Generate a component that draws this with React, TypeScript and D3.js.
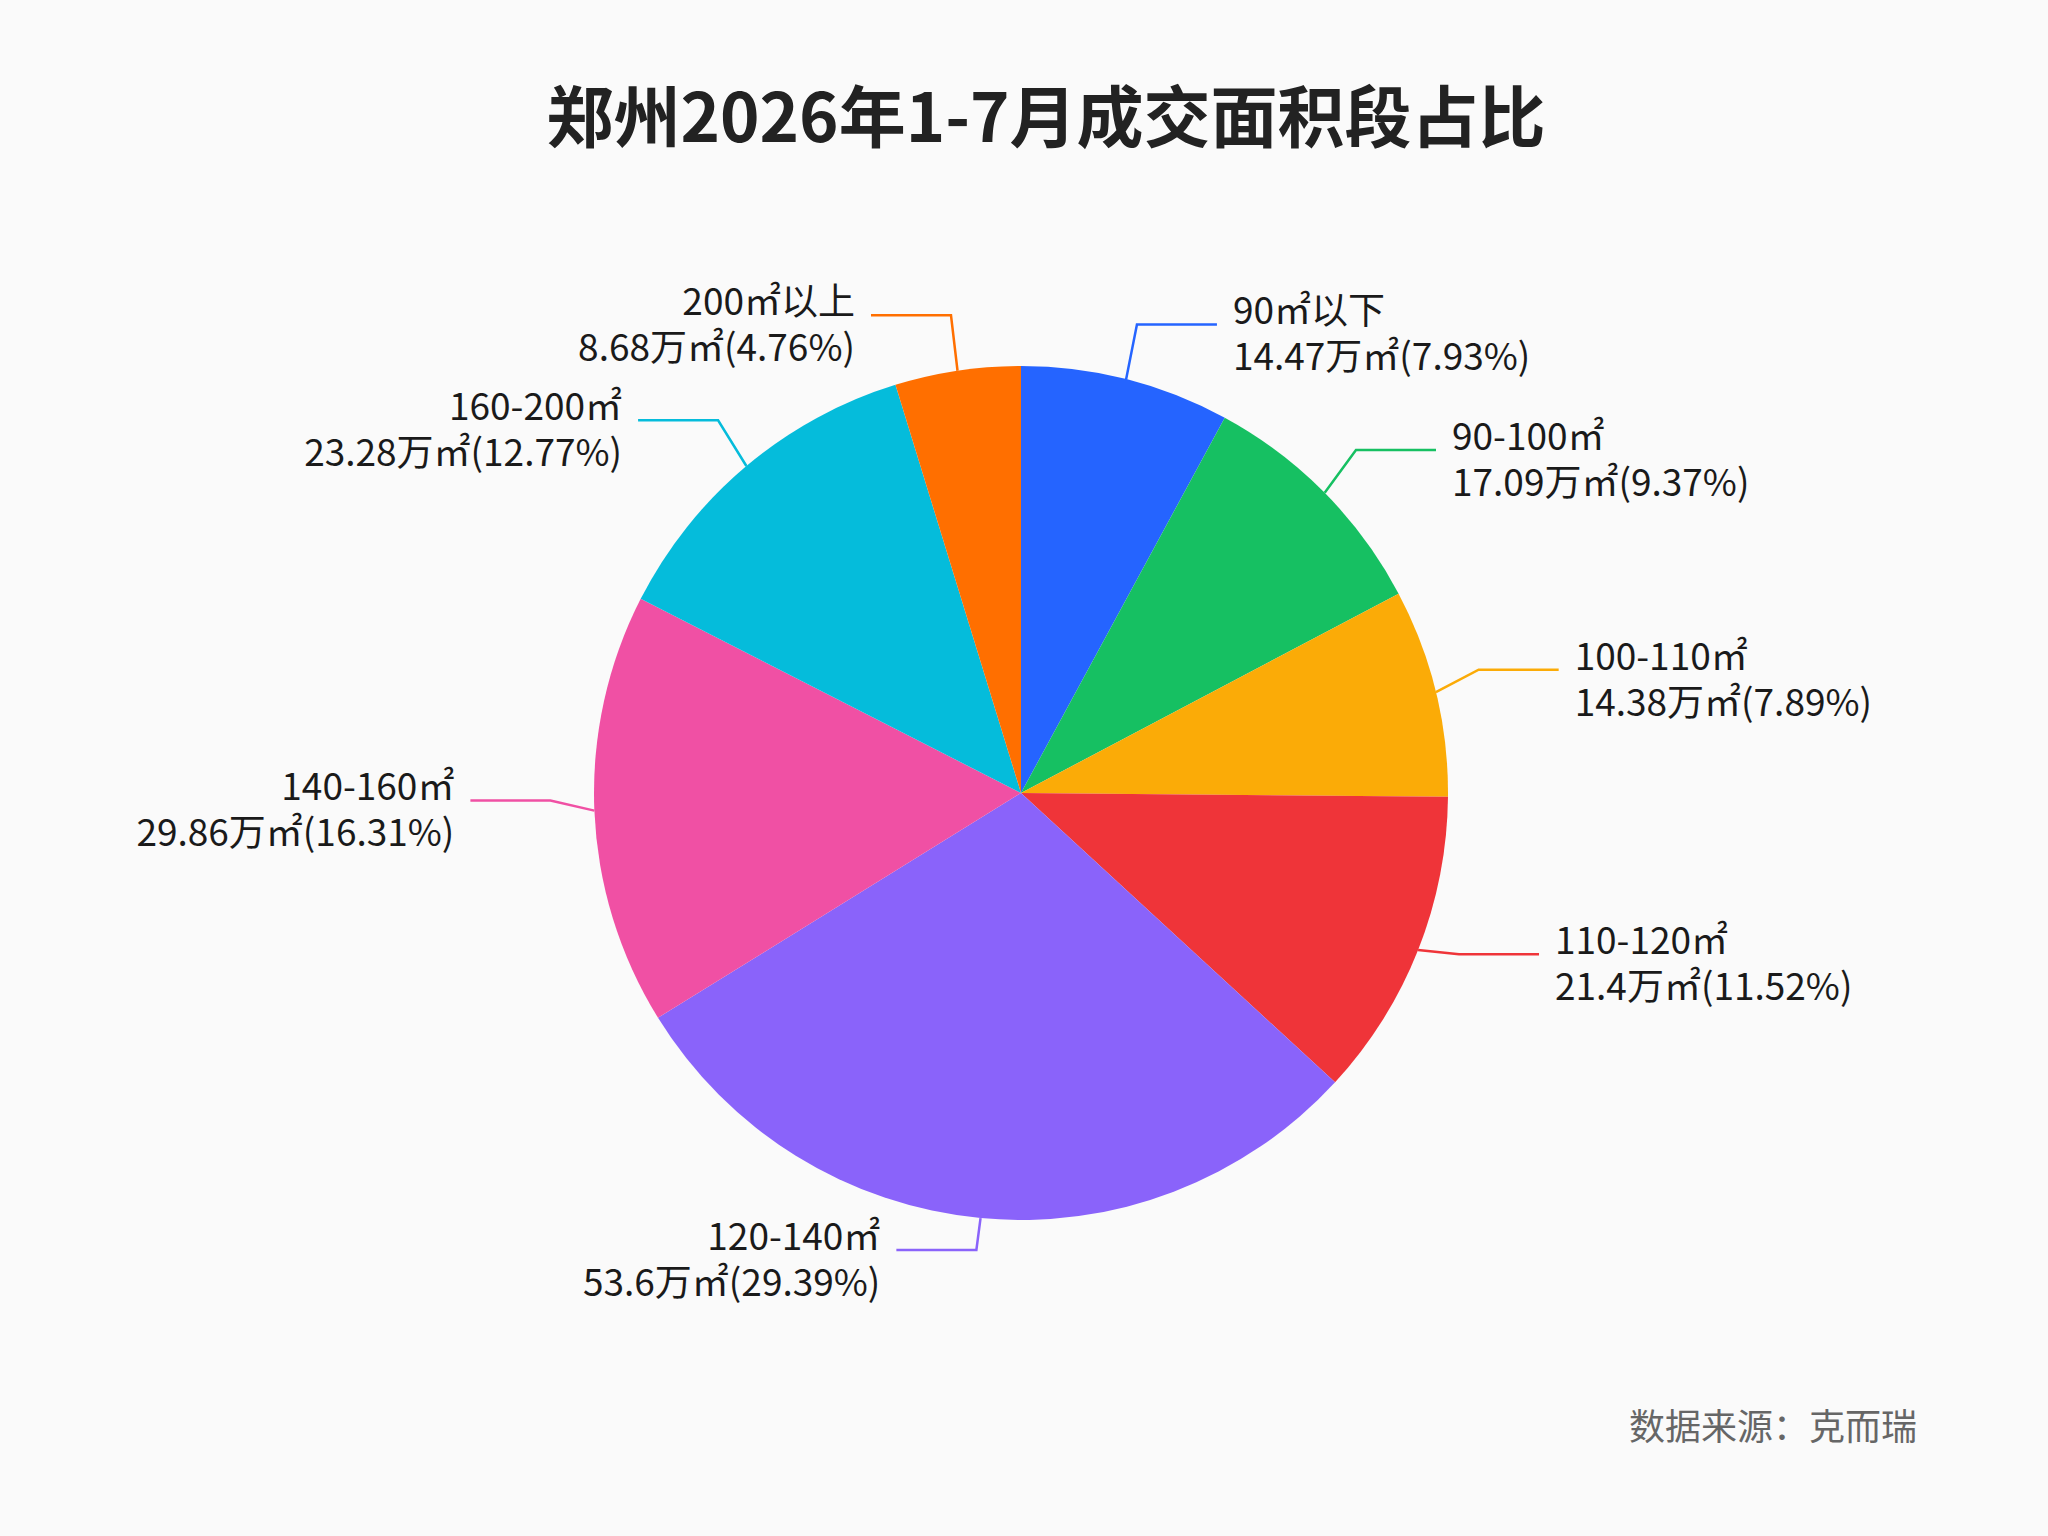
import React, { useEffect, useRef } from "react";
import * as d3 from "d3";

const categories = ["90㎡以下", "90-100㎡", "100-110㎡", "110-120㎡", "120-140㎡", "140-160㎡", "160-200㎡", "200㎡以上"];
const areas = [14.47, 17.09, 14.38, 21.4, 53.6, 29.86, 23.28, 8.68];
const shares = ["7.93%", "9.37%", "7.89%", "11.52%", "29.39%", "16.31%", "12.77%", "4.76%"];
const colors = ["#2564ff", "#16c062", "#fbab07", "#ef3439", "#8a63fa", "#f050a4", "#05bcdb", "#ff6f00"];

type Slice = { name: string; area: number; share: string; color: string };

const App = () => {
  const svgRef = useRef<SVGSVGElement>(null);

  useEffect(() => {
    document.body.style.margin = "0";
    const width = 2048;
    const height = 1536;
    const cx = 1021;
    const cy = 793;
    const r = 427;
    const font = "'Noto Sans CJK SC', 'Noto Sans', sans-serif";

    const data: Slice[] = categories.map((name, i) => ({
      name,
      area: areas[i],
      share: shares[i],
      color: colors[i],
    }));

    const svg = d3.select(svgRef.current).attr("width", width).attr("height", height);
    svg.selectAll("*").remove();

    svg.append("rect").attr("width", width).attr("height", height).attr("fill", "#fafafa");

    svg
      .append("text")
      .attr("x", 1046)
      .attr("y", 142)
      .attr("text-anchor", "middle")
      .attr("font-family", font)
      .attr("font-weight", 700)
      .attr("font-size", 67)
      .attr("fill", "#222")
      .text("郑州2026年1-7月成交面积段占比");

    const pie = d3.pie<Slice>().sort(null).value((d) => d.area);
    const arcs = pie(data);
    const arc = d3.arc<d3.PieArcDatum<Slice>>().innerRadius(0).outerRadius(r);

    svg
      .append("g")
      .attr("transform", `translate(${cx}, ${cy})`)
      .selectAll("path")
      .data(arcs)
      .join("path")
      .attr("d", arc)
      .attr("fill", (d) => d.data.color);

    // labels + leader lines
    const elbowR = r + 44;
    const lift = 12;
    const len2 = 80;

    arcs.forEach((a) => {
      const mid = (a.startAngle + a.endAngle) / 2;
      const sx = cx + Math.sin(mid) * r;
      const sy = cy - Math.cos(mid) * r;
      const ex = cx + Math.sin(mid) * elbowR;
      const ey = cy - Math.cos(mid) * elbowR - lift;
      const right = Math.sin(mid) >= 0 && mid < Math.PI * 0.98;
      const dir = right ? 1 : -1;
      const hx = ex + dir * len2;
      const tx = hx + dir * 16;

      svg
        .append("polyline")
        .attr("points", [[sx, sy], [ex, ey], [hx, ey]].map((p) => p.join(",")).join(" "))
        .attr("fill", "none")
        .attr("stroke", a.data.color)
        .attr("stroke-width", 2.5);

      const lines = [a.data.name, `${a.data.area}万㎡(${a.data.share})`];
      lines.forEach((s, k) => {
        svg
          .append("text")
          .attr("x", tx)
          .attr("y", ey + k * 46)
          .attr("text-anchor", right ? "start" : "end")
          .attr("font-family", font)
          .attr("font-size", 37)
          .attr("fill", "#1a1a1a")
          .text(s);
      });
    });

    svg
      .append("text")
      .attr("x", 1917)
      .attr("y", 1440)
      .attr("text-anchor", "end")
      .attr("font-family", font)
      .attr("font-size", 36)
      .attr("fill", "#666")
      .text("数据来源：克而瑞");
  }, []);

  return <svg ref={svgRef} style={{ display: "block" }}></svg>;
};

export default App;
